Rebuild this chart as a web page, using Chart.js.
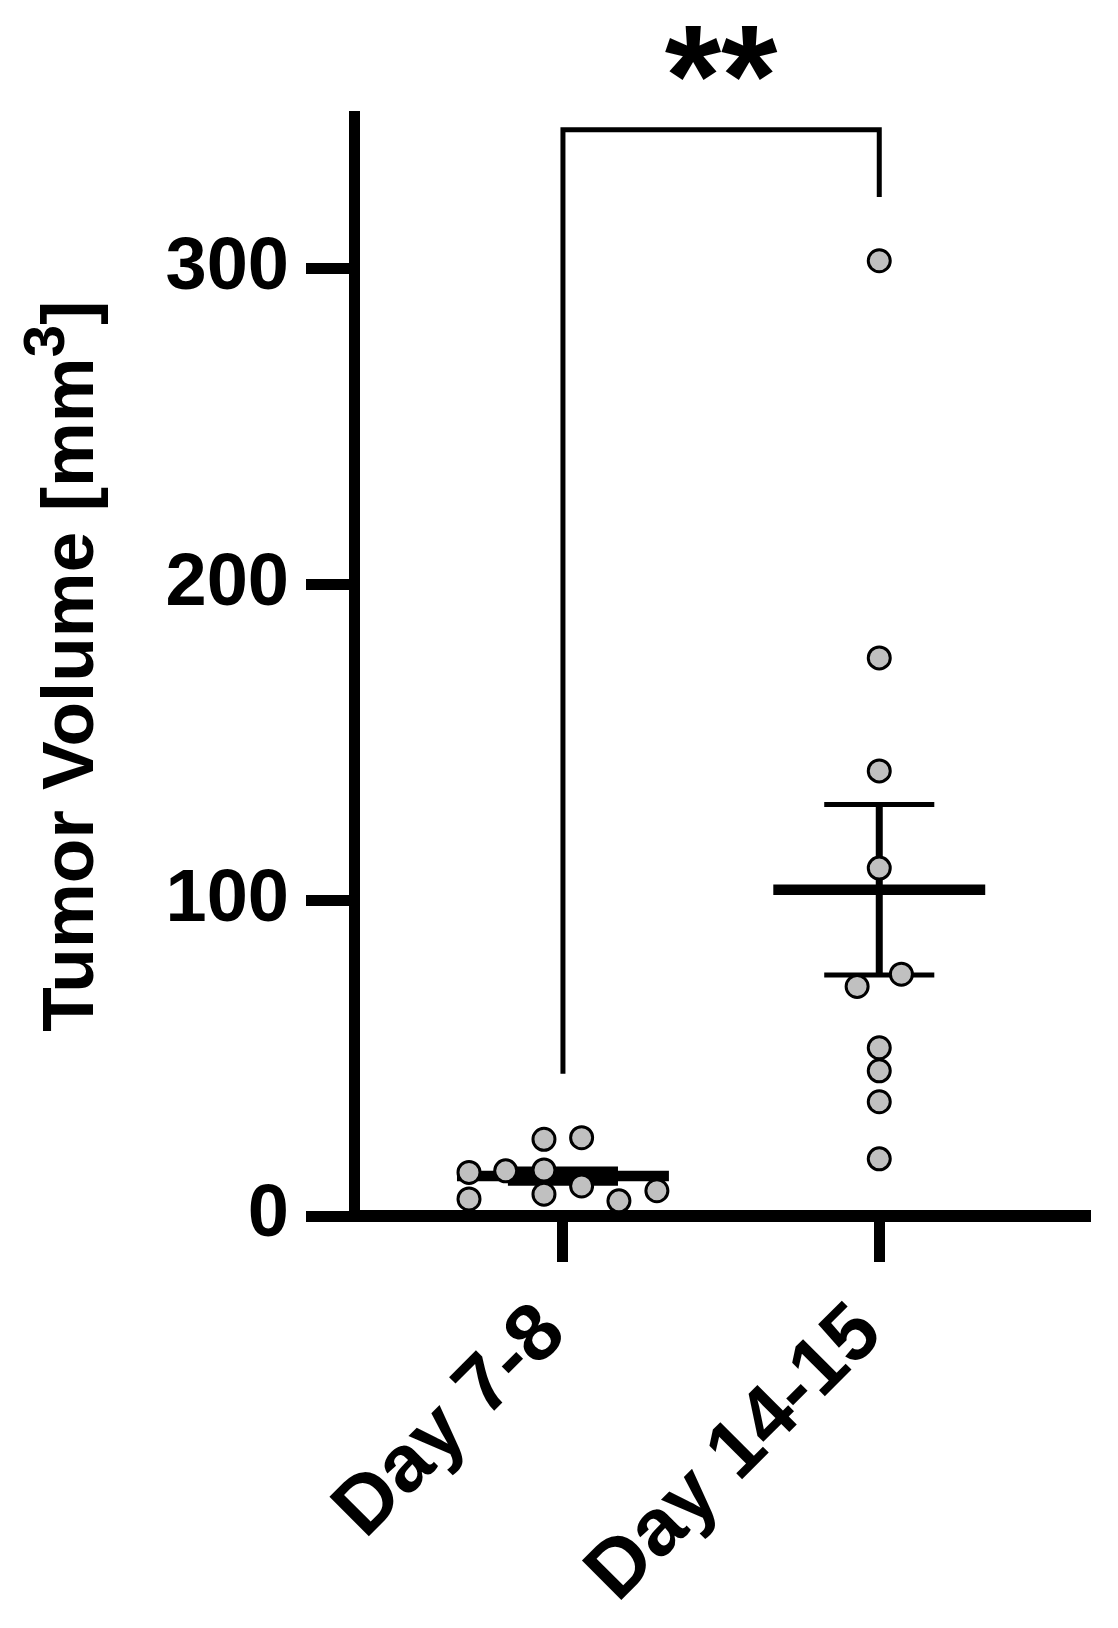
<!DOCTYPE html>
<html>
<head>
<meta charset="utf-8">
<script src="https://cdn.jsdelivr.net/npm/chart.js@4.4.1/dist/chart.umd.min.js"></script>
<style>
    html, body { margin: 0; padding: 0; background: #fff; }
    #wrap { width: 1118px; height: 1628px; position: relative; }
</style>
</head>
<body>
<div id="wrap"><canvas id="c"></canvas></div>
<script>
// groups sit at x = 1 and x = 2 on a linear axis
var groups = ['Day 7-8', 'Day 14-15'];
var groupX = [1, 2];

// tumor volumes (mm3), with the dot's sideways jitter
var earlyVol = [13.8, 5.4, 14.3, 24.3, 24.8, 14.6, 6.9, 9.5, 4.8, 8.0];
var earlyJitter = [-0.297, -0.297, -0.181, -0.060, 0.059, -0.060, -0.060, 0.059, 0.177, 0.297];
var lateVol = [302.6, 176.8, 141.0, 110.2, 72.7, 76.6, 53.3, 46.0, 36.2, 18.1];
var lateJitter = [0, 0, 0, 0, -0.07, 0.07, 0, 0, 0, 0];

var yTicks = [0, 100, 200, 300];
var yMax = 348.3;

// significance bracket and its label
var bracketX = [1, 1, 2, 2];
var bracketY = [45.1, 344.1, 344.1, 322.8];
var sigText = '**';
var sigX = 1.5;
var sigY = 345.4;

// y title, with a raised "3"
var titleMain = 'Tumor Volume [mm';
var titleSup = '3';
var titleEnd = ']';

var FONT = "'Liberation Sans', Arial, sans-serif";

function mean(a) { return a.reduce(function(s, v) { return s + v; }, 0) / a.length; }
function sem(a) {
    var m = mean(a);
    var ss = a.reduce(function(s, v) { return s + (v - m) * (v - m); }, 0);
    return Math.sqrt(ss / (a.length - 1)) / Math.sqrt(a.length);
}

function seg(x1, y1, x2, y2, w, order) {
    return { type: 'scatter', showLine: true, data: [{ x: x1, y: y1 }, { x: x2, y: y2 }],
        borderColor: '#000', borderWidth: w, pointRadius: 0, borderCapStyle: 'butt', order: order };
}

function dots(vals, jit, cx) {
    return { type: 'scatter', data: vals.map(function(v, i) { return { x: cx + jit[i], y: v }; }),
        backgroundColor: '#c0c0c0', borderColor: '#000', borderWidth: 3, pointRadius: 11, order: 0 };
}

var datasets = [];
[earlyVol, lateVol].forEach(function(vals, g) {
    var cx = groupX[g], m = mean(vals), e = sem(vals);
    datasets.push(seg(cx - 0.335, m, cx + 0.335, m, 10.5, 2));
    datasets.push(seg(cx, m - e, cx, m + e, 7, 2));
    datasets.push(seg(cx - 0.174, m - e, cx + 0.174, m - e, 5, 2));
    datasets.push(seg(cx - 0.174, m + e, cx + 0.174, m + e, 5, 2));
});
datasets.push({ type: 'scatter', showLine: true, data: bracketX.map(function(x, i) { return { x: x, y: bracketY[i] }; }),
    borderColor: '#000', borderWidth: 5, pointRadius: 0, borderJoinStyle: 'miter', order: 3 });
datasets.push(dots(earlyVol, earlyJitter, groupX[0]));
datasets.push(dots(lateVol, lateJitter, groupX[1]));

var sigPlugin = {
    id: 'sigLabel',
    afterDatasetsDraw: function(chart) {
        var ctx = chart.ctx, x = chart.scales.x, y = chart.scales.y;
        ctx.save();
        ctx.font = 'bold 145px ' + FONT;
        ctx.fillStyle = '#000';
        ctx.textAlign = 'center';
        ctx.textBaseline = 'alphabetic';
        ctx.fillText(sigText, x.getPixelForValue(sigX), y.getPixelForValue(sigY));
        ctx.restore();
    }
};

// y title drawn by hand so the superscript can be a real raised digit
var titlePlugin = {
    id: 'yTitle',
    afterDraw: function(chart) {
        var ctx = chart.ctx, area = chart.chartArea;
        var big = 'bold 73px ' + FONT, small = 'bold 58px ' + FONT;
        ctx.save();
        ctx.fillStyle = '#000';
        ctx.textBaseline = 'alphabetic';
        ctx.textAlign = 'left';
        ctx.font = big;
        var w1 = ctx.measureText(titleMain).width;
        var w3 = ctx.measureText(titleEnd).width;
        ctx.font = small;
        var w2 = ctx.measureText(titleSup).width;
        var total = w1 + w2 + w3;
        ctx.translate(93, (area.top + area.bottom) / 2 + total / 2);
        ctx.rotate(-Math.PI / 2);
        ctx.font = big;
        ctx.fillText(titleMain, 0, 0);
        ctx.font = small;
        ctx.fillText(titleSup, w1, -29);
        ctx.font = big;
        ctx.fillText(titleEnd, w1 + w2, 0);
        ctx.restore();
    }
};

new Chart(document.getElementById('c'), {
    type: 'scatter',
    data: { datasets: datasets },
    plugins: [sigPlugin, titlePlugin],
    options: {
        responsive: true, maintainAspectRatio: false, animation: false,
        layout: { padding: { top: 116.5, right: 32.5, left: 0, bottom: 0 } },
        plugins: { legend: { display: false }, tooltip: { enabled: false } },
        scales: {
            x: {
                type: 'linear', min: 0.341, max: 2.652,
                afterBuildTicks: function(s) { s.ticks = groupX.map(function(v) { return { value: v }; }); },
                afterFit: function(s) { s.height = 1628 - 1216; },
                grid: { drawOnChartArea: false, tickLength: 46, lineWidth: 11, color: '#000' },
                border: { display: true, width: 12, color: '#000' },
                ticks: {
                    autoSkip: false, minRotation: 45, maxRotation: 45, padding: 24, labelOffset: -10,
                    color: '#000', font: { family: FONT, size: 81, weight: 'bold' },
                    callback: function(v) { return groups[groupX.indexOf(v)]; }
                }
            },
            y: {
                min: 0, max: yMax,
                afterBuildTicks: function(s) { s.ticks = yTicks.map(function(v) { return { value: v }; }); },
                afterFit: function(s) { s.width = 354.5; },
                grid: { drawOnChartArea: false, tickLength: 48.5, lineWidth: 11, color: '#000' },
                border: { display: true, width: 11, color: '#000' },
                ticks: { padding: 17, color: '#000', font: { family: FONT, size: 74, weight: 'bold' } },
                title: { display: false }
            }
        }
    }
});
</script>
</body>
</html>
